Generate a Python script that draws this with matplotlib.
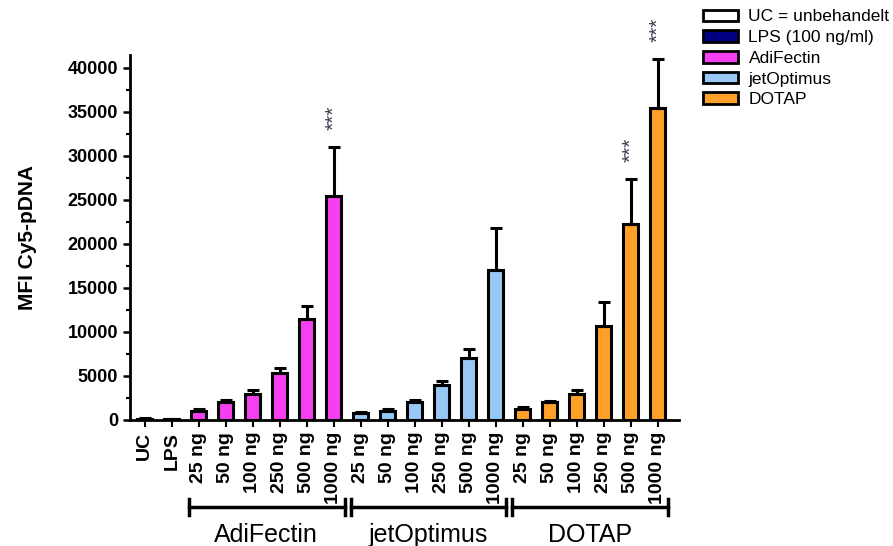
import matplotlib
matplotlib.use("Agg")
import matplotlib.pyplot as plt
import matplotlib.transforms as mtransforms
from matplotlib.patches import Patch
from matplotlib.ticker import MultipleLocator

plt.rcParams["font.family"] = ["Liberation Sans", "DejaVu Sans"]

# data
control_labels = ["UC", "LPS"]
control_means = [150, 80]
control_errs = [50, 30]
doses = ["25 ng", "50 ng", "100 ng", "250 ng", "500 ng", "1000 ng"]
groups = ["AdiFectin", "jetOptimus", "DOTAP"]
adifectin_means = [1000, 2000, 3000, 5300, 11500, 25500]
adifectin_errs = [300, 300, 400, 600, 1500, 5500]
jetoptimus_means = [750, 1000, 2000, 4000, 7000, 17000]
jetoptimus_errs = [150, 200, 300, 400, 1100, 4800]
dotap_means = [1300, 2000, 3000, 10700, 22300, 35500]
dotap_errs = [200, 150, 400, 2700, 5100, 5500]
signif = {"AdiFectin": [5], "jetOptimus": [], "DOTAP": [4, 5]}

legend_labels = ["UC = unbehandelt", "LPS (100 ng/ml)", "AdiFectin", "jetOptimus", "DOTAP"]
colors = {"UC": "#FFFFFF", "LPS": "#000080", "AdiFectin": "#F53FF0",
          "jetOptimus": "#99C8F5", "DOTAP": "#FFA028"}

fig = plt.figure(figsize=(8.93, 5.46), dpi=100)
ax = fig.add_axes([0.1456, 0.2308, 0.615, 0.669])

bw = 0.55
lw = 2.2
x = 0
tick_pos, tick_lab = [], []
for lab, m, e in zip(control_labels, control_means, control_errs):
    ax.bar(x, m, width=bw, color=colors[lab], edgecolor="black", linewidth=lw, zorder=2)
    ax.errorbar(x, m, yerr=[[0], [e]], fmt="none", ecolor="black", elinewidth=lw, capsize=4, capthick=lw, zorder=3)
    tick_pos.append(x)
    tick_lab.append(lab)
    x += 1

group_data = {"AdiFectin": (adifectin_means, adifectin_errs),
              "jetOptimus": (jetoptimus_means, jetoptimus_errs),
              "DOTAP": (dotap_means, dotap_errs)}
spans = {}
for g in groups:
    means, errs = group_data[g]
    start = x
    for i, (m, e) in enumerate(zip(means, errs)):
        ax.bar(x, m, width=bw, color=colors[g], edgecolor="black", linewidth=lw, zorder=2)
        ax.errorbar(x, m, yerr=[[0], [e]], fmt="none", ecolor="black", elinewidth=lw, capsize=4.5, capthick=lw, zorder=3)
        if i in signif[g]:
            ax.text(x, m + e + 1900, "***", rotation=90, ha="center", va="bottom",
                    fontsize=15, color="#3A3F50")
        tick_pos.append(x)
        tick_lab.append(doses[i])
        x += 1
    spans[g] = (start, x - 1)

ax.set_xlim(-0.55, 19.8)
ax.set_ylim(0, 41500)
ax.set_xticks(tick_pos)
ax.set_xticklabels(tick_lab, rotation=90, fontsize=14, fontweight="bold")
ax.yaxis.set_major_locator(MultipleLocator(5000))
ax.yaxis.set_minor_locator(MultipleLocator(2500))
ax.set_yticks([0, 5000, 10000, 15000, 20000, 25000, 30000, 35000, 40000])
ax.tick_params(axis="y", labelsize=13, width=1.8, length=5)
ax.tick_params(axis="y", which="minor", width=1.5, length=3)
ax.tick_params(axis="x", width=1.5, length=5)
for t in ax.get_yticklabels():
    t.set_fontweight("bold")
ax.spines["top"].set_visible(False)
ax.spines["right"].set_visible(False)
ax.spines["left"].set_linewidth(2)
ax.spines["bottom"].set_linewidth(2)
ax.set_ylabel("MFI Cy5-pDNA", fontsize=15, fontweight="bold", labelpad=22)

# group brackets below the tick labels
trans = mtransforms.blended_transform_factory(ax.transData, ax.transAxes)
by = -0.238
for g in groups:
    a, b = spans[g]
    x0, x1 = a - 0.38, b + 0.4
    ax.plot([x0, x1], [by, by], color="black", lw=2.5, transform=trans, clip_on=False)
    for xc in (x0, x1):
        ax.plot([xc, xc], [by - 0.022, by + 0.022], color="black", lw=2.5,
                transform=trans, clip_on=False)
    ax.text((a + b) / 2, -0.315, g, transform=trans, ha="center", va="center", fontsize=18)

handles = [Patch(facecolor=colors[k], edgecolor="black", linewidth=2)
           for k in ["UC", "LPS", "AdiFectin", "jetOptimus", "DOTAP"]]
fig.legend(handles, legend_labels, loc="upper left", bbox_to_anchor=(0.774, 1.005),
           frameon=False, fontsize=12.5, handlelength=2.0, handleheight=0.65,
           labelspacing=0.33, handletextpad=0.6, borderaxespad=0.3)

fig.savefig("out.png", dpi=100)
